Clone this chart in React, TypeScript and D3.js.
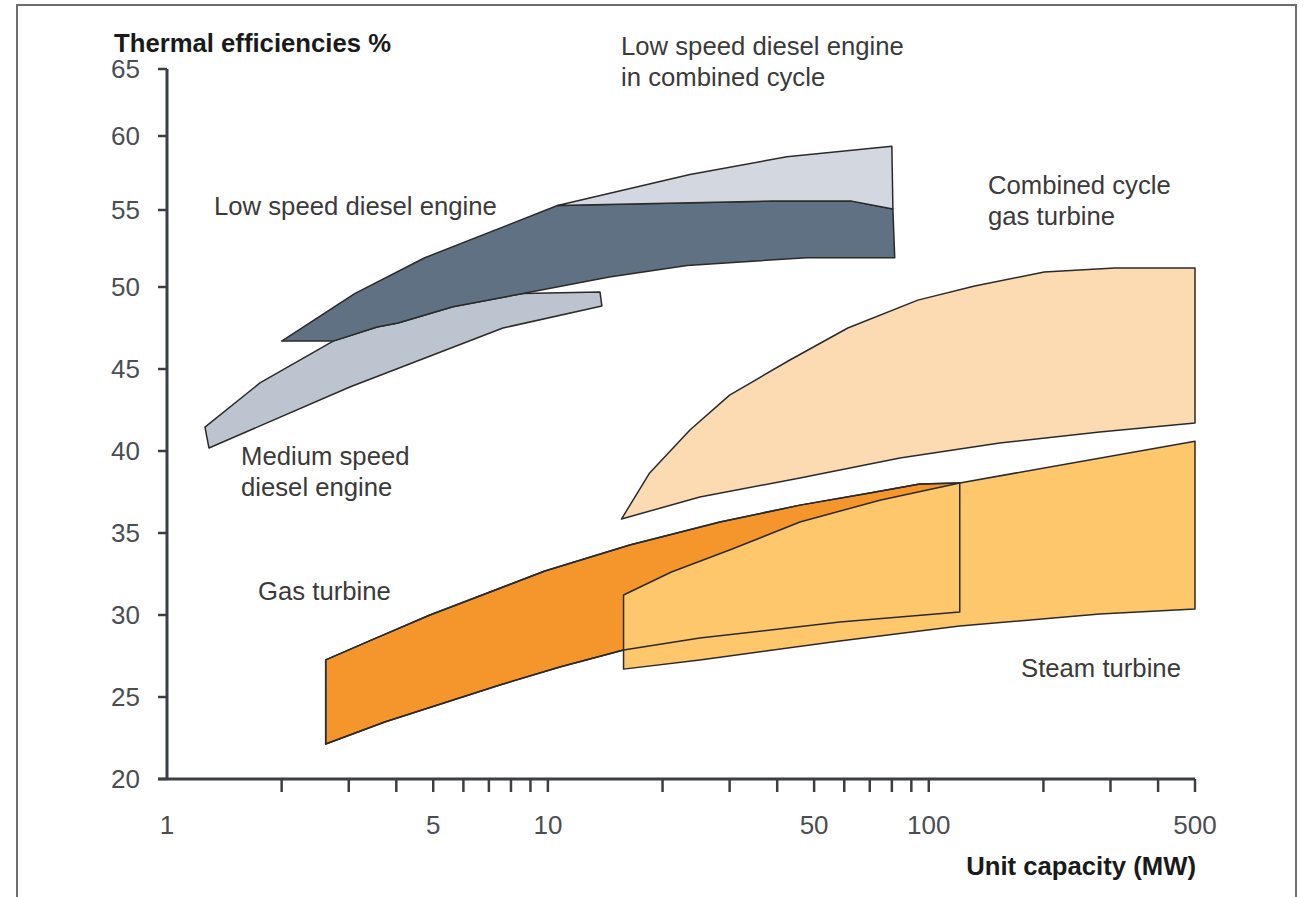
import React from "react";
import * as d3 from "d3";

type Pt = [number, number];

// Unit capacity (MW), thermal efficiency (%)
const mediumSpeedDiesel: Pt[] = [
  [1.258, 41.46], [1.754, 44.15], [2.73, 46.7], [3.56, 47.56], [4.04, 47.8], [5.63, 48.8],
  [8.6, 49.6], [13.7, 49.7], [13.86, 48.84], [7.62, 47.5], [3.02, 43.9], [1.289, 40.18],
];

const lowSpeedDiesel: Pt[] = [
  [2.0, 46.7], [3.11, 49.6], [4.75, 51.9], [10.6, 55.3], [39, 55.6], [62.8, 55.6],
  [80.5, 55.07], [81.4, 51.9], [47.8, 51.9], [23.2, 51.4], [14.5, 50.65], [8.6, 49.6],
  [5.63, 48.8], [4.04, 47.8], [3.56, 47.56], [2.73, 46.7],
];

const lowSpeedCombined: Pt[] = [
  [10.6, 55.3], [23.6, 57.4], [42.4, 58.6], [80, 59.3], [80.5, 55.07], [62.8, 55.6], [39, 55.6],
];

const combinedCycleGT: Pt[] = [
  [15.6, 35.85], [18.5, 38.66], [23.6, 41.28], [30, 43.41], [43.2, 45.55], [61.3, 47.5],
  [93.6, 49.2], [132, 50.06], [201, 50.97], [308, 51.23], [500, 51.23], [500, 41.7],
  [281, 41.16], [153.6, 40.49], [84, 39.57], [45.9, 38.35], [25.06, 37.2],
];

const gasTurbine: Pt[] = [
  [2.61, 27.26], [3.45, 28.48], [4.9, 30.0], [9.82, 32.68], [16.4, 34.27], [28.3, 35.67],
  [45.9, 36.7], [70, 37.44], [94.7, 37.99], [120.6, 38.05], [120.6, 30.18], [58.4, 29.57],
  [25.06, 28.6], [15.8, 27.87], [10.75, 26.83], [7.48, 25.73], [3.73, 23.48], [2.61, 22.13],
];

const steamTurbine: Pt[] = [
  [15.8, 31.22], [21.1, 32.62], [30, 33.96], [45.9, 35.67], [74.4, 37.0], [120.6, 38.05],
  [500, 40.6], [500, 30.37], [281, 30.06], [120.6, 29.33], [58.4, 28.41], [25.06, 27.26],
  [15.8, 26.7],
];

const yTicks = [20, 25, 30, 35, 40, 45, 50, 55, 60, 65];
const xTicks = [2, 3, 4, 5, 6, 7, 8, 9, 10, 20, 30, 40, 50, 60, 70, 80, 90, 100, 200, 300, 400, 500];
const xTickLabels = [1, 5, 10, 50, 100, 500];

const FONT = "'Liberation Sans', Arial, Helvetica, sans-serif";

export default function App() {
  const x = d3.scaleLog().domain([1, 500]).range([167, 1195]);
  const y = d3.scaleLinear().domain([20, 50, 55, 60, 65]).range([779, 287, 210, 136, 69]);
  const line = d3
    .line<Pt>()
    .x((d) => x(d[0]))
    .y((d) => y(d[1]))
    .curve(d3.curveLinearClosed);

  const stroke = "#2a2a2a";
  const sw = 1.5;
  const axisColor = "#3b3f45";
  const labelColor = "#3a3a3a";
  const fs = 25.7;
  const tickFs = 26;

  return (
    <svg
      width={1304}
      height={897}
      style={{ position: "absolute", left: 0, top: 0, background: "#fff" }}
      fontFamily={FONT}
    >
      <rect x={0} y={0} width={1304} height={897} fill="#fff" />
      {/* frame */}
      <path d="M17,897 V5 H1296 V897" fill="none" stroke="#6e6e6e" strokeWidth={2} />

      {/* regions */}
      <path d={line(mediumSpeedDiesel) || ""} fill="#bcc4cf" stroke={stroke} strokeWidth={sw} strokeLinejoin="round" />
      <path d={line(lowSpeedDiesel) || ""} fill="#5f7182" stroke={stroke} strokeWidth={sw} strokeLinejoin="round" />
      <path d={line(lowSpeedCombined) || ""} fill="#d3d7df" stroke={stroke} strokeWidth={sw} strokeLinejoin="round" />
      <path d={line(combinedCycleGT) || ""} fill="#fcdbb3" stroke={stroke} strokeWidth={sw} strokeLinejoin="round" />
      <path d={line(gasTurbine) || ""} fill="#f5962c" stroke={stroke} strokeWidth={sw} strokeLinejoin="round" />
      <path d={line(steamTurbine) || ""} fill="#fec76b" stroke={stroke} strokeWidth={sw} strokeLinejoin="round" />
      <path d={line(gasTurbine) || ""} fill="none" stroke={stroke} strokeWidth={sw} strokeLinejoin="round" />

      {/* y axis */}
      <line x1={x(1)} x2={x(1)} y1={y(65)} y2={y(20)} stroke={axisColor} strokeWidth={3} />
      {yTicks.map((t) => (
        <g key={"y" + t}>
          <line x1={x(1) - 9} x2={x(1)} y1={y(t)} y2={y(t)} stroke={axisColor} strokeWidth={2.5} />
          <text x={140} y={y(t)} dy="0.36em" textAnchor="end" fontSize={tickFs} fill="#4a4d52">
            {t}
          </text>
        </g>
      ))}

      {/* x axis */}
      <line x1={x(1) - 9} x2={x(500)} y1={y(20)} y2={y(20)} stroke={axisColor} strokeWidth={3} />
      {xTicks.map((t) => (
        <line key={"x" + t} x1={x(t)} x2={x(t)} y1={y(20)} y2={y(20) + 13} stroke={axisColor} strokeWidth={2.5} />
      ))}
      {xTickLabels.map((t) => (
        <text key={"xl" + t} x={x(t)} y={834} textAnchor="middle" fontSize={tickFs} fill="#4a4d52">
          {t}
        </text>
      ))}

      {/* axis titles */}
      <text x={114} y={52} fontSize={fs} fontWeight="bold" fill="#1a1a1a">
        Thermal efficiencies %
      </text>
      <text x={1196} y={875} textAnchor="end" fontSize={fs} fontWeight="bold" fill="#1a1a1a">
        Unit capacity (MW)
      </text>

      {/* annotations */}
      <g fontSize={fs} fill={labelColor}>
        <text x={621} y={55}>Low speed diesel engine</text>
        <text x={621} y={86}>in combined cycle</text>
        <text x={214} y={215}>Low speed diesel engine</text>
        <text x={988} y={194}>Combined cycle</text>
        <text x={988} y={225}>gas turbine</text>
        <text x={241} y={465}>Medium speed</text>
        <text x={241} y={496}>diesel engine</text>
        <text x={258} y={600}>Gas turbine</text>
        <text x={1021} y={677}>Steam turbine</text>
      </g>
    </svg>
  );
}
